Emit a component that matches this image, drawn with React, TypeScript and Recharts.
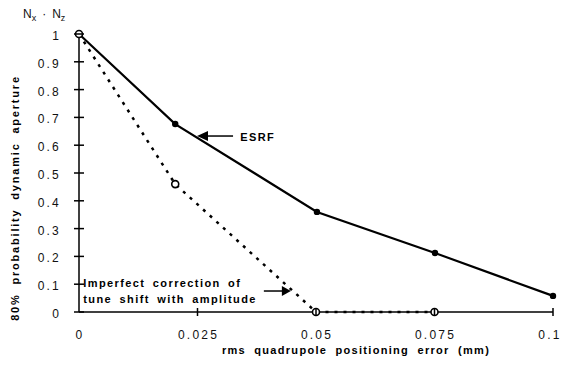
import { LineChart, Line, XAxis, YAxis, ReferenceDot, ReferenceLine } from "recharts";

// ESRF curve (solid, filled dots)
const ESRF_X = [0, 0.0203, 0.0502, 0.0751, 0.1];
const ESRF_Y = [1, 0.676, 0.36, 0.212, 0.058];

// imperfect correction of tune shift with amplitude (dotted, open dots)
const IMP_X = [0, 0.0203, 0.05, 0.075];
const IMP_Y = [1, 0.46, 0, 0];

const X_TICKS = [0, 0.025, 0.05, 0.075, 0.1];
const Y_TICKS = [0, 0.1, 0.2, 0.3, 0.4, 0.5, 0.6, 0.7, 0.8, 0.9, 1];

const esrfData = ESRF_X.map((x, i) => ({ x, y: ESRF_Y[i] }));
const impData = IMP_X.map((x, i) => ({ x, y: IMP_Y[i] }));

const FONT = "'Liberation Sans', Arial, sans-serif";

function XTick(props: any) {
  const { x, y, payload, index } = props;
  const last = index === X_TICKS.length - 1;
  return (
    <g>
      {payload.value !== 0 && <line x1={x} y1={y - 4} x2={x} y2={y + 4} stroke="#000" strokeWidth={1.5} />}
      <text
        x={last ? x - 3 : x + 1}
        y={y + 27}
        textAnchor="middle"
        fontFamily={FONT}
        fontSize={12}
        letterSpacing={2.2}
        fill="#111"
      >
        {String(payload.value)}
      </text>
    </g>
  );
}

function YTick(props: any) {
  const { x, y, payload } = props;
  return (
    <g>
      <line x1={x - 5} y1={y} x2={x + 5} y2={y} stroke="#000" strokeWidth={1.5} />
      <text x={x - 18} y={y + 6} textAnchor="end" fontFamily={FONT} fontSize={12} letterSpacing={2.2} fill="#111">
        {String(payload.value)}
      </text>
    </g>
  );
}

const openDot = (p: any) => (
  <circle key={`o${p.index}`} cx={p.cx} cy={p.cy} r={3.5} fill="#fff" stroke="#000" strokeWidth={1.6} />
);
const fullDot = (p: any) => <circle key={`f${p.index}`} cx={p.cx} cy={p.cy} r={3.2} fill="#000" stroke="none" />;

const headLeft = (p: any) => (
  <path d={`M${p.cx},${p.cy} L${p.cx + 11},${p.cy - 5} L${p.cx + 11},${p.cy + 5} Z`} fill="#000" />
);
const headRight = (p: any) => (
  <path d={`M${p.cx},${p.cy} L${p.cx - 9},${p.cy - 5} L${p.cx - 9},${p.cy + 5} Z`} fill="#000" />
);

const annText = (lines: string[]) => (p: any) => (
  <text x={p.cx} y={p.cy} fontFamily={FONT} fontSize={11} fontWeight="bold" letterSpacing={1.4} wordSpacing={3} fill="#000">
    {lines.map((l, i) => (
      <tspan key={i} x={p.cx} dy={i === 0 ? 0 : 16}>
        {l}
      </tspan>
    ))}
  </text>
);

export default function App() {
  return (
    <div style={{ position: "absolute", left: 0, top: 0, width: 563, height: 365, background: "#fff" }}>
      <LineChart width={563} height={365} margin={{ top: 34, right: 10, bottom: 23, left: 19 }}>
        <XAxis
          type="number"
          dataKey="x"
          domain={[0, 0.1]}
          ticks={X_TICKS}
          height={30}
          tickSize={0}
          tickMargin={0}
          tickLine={false}
          tick={<XTick />}
          axisLine={{ stroke: "#000", strokeWidth: 1.5 }}
          allowDuplicatedCategory={false}
        />
        <YAxis
          type="number"
          domain={[0, 1]}
          ticks={Y_TICKS}
          width={60}
          tickSize={0}
          tickMargin={0}
          tickLine={false}
          tick={<YTick />}
          axisLine={{ stroke: "#000", strokeWidth: 1.5 }}
        />
        <Line
          data={esrfData}
          dataKey="y"
          stroke="#000"
          strokeWidth={2.2}
          dot={fullDot}
          activeDot={false}
          isAnimationActive={false}
        />
        <Line
          data={impData}
          dataKey="y"
          stroke="#000"
          strokeWidth={2.5}
          strokeDasharray="3 6"
          dot={openDot}
          activeDot={false}
          isAnimationActive={false}
        />
        <ReferenceLine segment={[{ x: 0.0262, y: 0.633 }, { x: 0.0325, y: 0.633 }]} stroke="#000" strokeWidth={1.5} />
        <ReferenceDot x={0.0249} y={0.633} shape={headLeft} />
        <ReferenceDot x={0.034} y={0.615} shape={annText(["ESRF"])} />
        <ReferenceLine segment={[{ x: 0.039, y: 0.0755 }, { x: 0.0435, y: 0.0755 }]} stroke="#000" strokeWidth={1.5} />
        <ReferenceDot x={0.0447} y={0.0755} shape={headRight} />
        <ReferenceDot x={0.0009} y={0.09} shape={annText(["Imperfect correction of", "tune shift with amplitude"])} />
      </LineChart>
      <svg width={563} height={365} style={{ position: "absolute", left: 0, top: 0, pointerEvents: "none" }}>
        <text x={23} y={18} fontFamily={FONT} fontSize={12} fill="#111">
          N<tspan fontSize={9} dy={3}>x</tspan>
          <tspan dy={-3} dx={6}>·</tspan>
          <tspan dx={6}>N</tspan>
          <tspan fontSize={9} dy={3}>z</tspan>
        </text>
        <text
          x={356}
          y={354}
          textAnchor="middle"
          fontFamily={FONT}
          fontSize={11}
          fontWeight="bold"
          letterSpacing={1.3}
          wordSpacing={4}
          fill="#000"
        >
          rms quadrupole positioning error (mm)
        </text>
        <text
          x={19}
          y={198}
          transform="rotate(-90 19 198)"
          textAnchor="middle"
          fontFamily={FONT}
          fontSize={11}
          fontWeight="bold"
          letterSpacing={1.8}
          wordSpacing={4}
          fill="#000"
        >
          80% probability dynamic aperture
        </text>
      </svg>
    </div>
  );
}
